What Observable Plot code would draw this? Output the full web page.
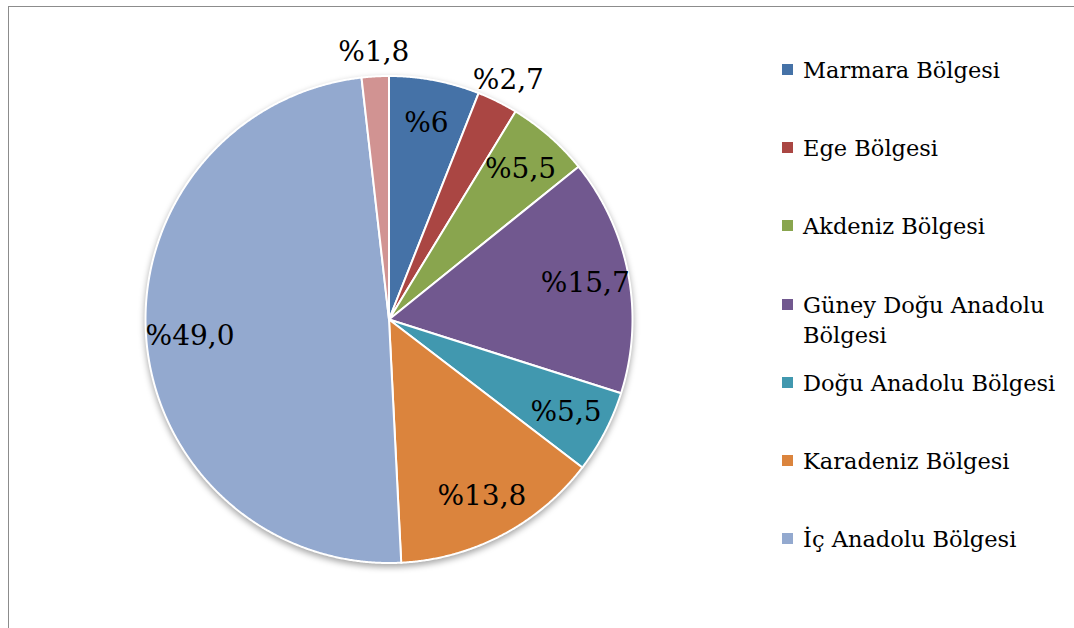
<!DOCTYPE html>
<html><head><meta charset="utf-8">
<script src="https://cdn.jsdelivr.net/npm/d3@7"></script>
<script src="https://cdn.jsdelivr.net/npm/@observablehq/plot@0.6"></script>
<style>
body{margin:0;background:#fff;}
#wrap{position:relative;width:1074px;height:628px;overflow:hidden;background:#fff;}
#frame{position:absolute;left:8px;top:6px;right:-4px;bottom:-4px;border-top:1.5px solid #8c8c8c;border-left:1.5px solid #8c8c8c;}
#chart{position:absolute;left:0;top:0;}
#chart svg g[aria-label="line"]{filter:drop-shadow(0px 3px 3px rgba(0,0,0,0.35));}
#legend{position:absolute;left:782px;top:0;font-family:"DejaVu Serif";font-size:22.5px;color:#000;}
.item{position:absolute;left:0;width:300px;}
.sw{position:absolute;left:0;width:11px;height:11px;}
.lt{position:absolute;left:21px;width:262px;line-height:30px;}
</style></head><body>
<div id="wrap"><div id="frame"></div><div id="chart"></div><div id="legend"></div></div>
<script>
const regions = ["Marmara Bölgesi","Ege Bölgesi","Akdeniz Bölgesi","Güney Doğu Anadolu Bölgesi","Doğu Anadolu Bölgesi","Karadeniz Bölgesi","İç Anadolu Bölgesi","Diğer"];
const values = [6, 2.7, 5.5, 15.7, 5.5, 13.8, 49.0, 1.8];
const labels = ["%6","%2,7","%5,5","%15,7","%5,5","%13,8","%49,0","%1,8"];
const colors = ["#4572A7","#AA4643","#89A54E","#71588F","#4198AF","#DB843D","#93A9CF","#D19392"];
const legendCount = 7;

const cx = 388.5, cy = 319, R = 243.5;

const arcs = d3.pie().sort(null).value(d => d)(values);
const pts = [];
arcs.forEach((a, i) => {
  const name = regions[i];
  pts.push({name, x: 0, y: 0});
  const n = Math.max(2, Math.ceil((a.endAngle - a.startAngle) / 0.005));
  for (let k = 0; k <= n; k++) {
    const t = a.startAngle + (a.endAngle - a.startAngle) * k / n;
    pts.push({name, x: Math.sin(t), y: Math.cos(t)});
  }
  pts.push({name, x: 0, y: 0});
});
const lab = arcs.map((a, i) => {
  const m = (a.startAngle + a.endAngle) / 2;
  const r = values[i] >= 5 ? 0.82 : 1.1;
  return {x: r * Math.sin(m), y: r * Math.cos(m), label: labels[i]};
});

const chart = Plot.plot({
  width: 1074, height: 628, margin: 0,
  x: {domain: [-1, 1], range: [cx - R, cx + R], axis: null},
  y: {domain: [-1, 1], range: [cy + R, cy - R], axis: null},
  color: {domain: regions, range: colors},
  style: {background: "transparent", overflow: "visible"},
  marks: [
    Plot.line(pts, {x: "x", y: "y", z: "name", fill: "name", stroke: "white", strokeWidth: 2, strokeLinejoin: "round"}),
    Plot.text(lab, {x: "x", y: "y", text: "label", fontSize: 28, fontFamily: "DejaVu Serif", fill: "black"})
  ]
});
document.getElementById("chart").appendChild(chart);

const leg = document.getElementById("legend");
for (let i = 0; i < legendCount; i++) {
  const it = document.createElement("div");
  it.className = "item";
  it.style.top = (55 + i * 78.2) + "px";
  const sw = document.createElement("div");
  sw.className = "sw";
  sw.style.top = "9px";
  sw.style.background = colors[i];
  const lt = document.createElement("div");
  lt.className = "lt";
  lt.textContent = regions[i];
  it.appendChild(sw); it.appendChild(lt);
  leg.appendChild(it);
}
</script>
</body></html>
